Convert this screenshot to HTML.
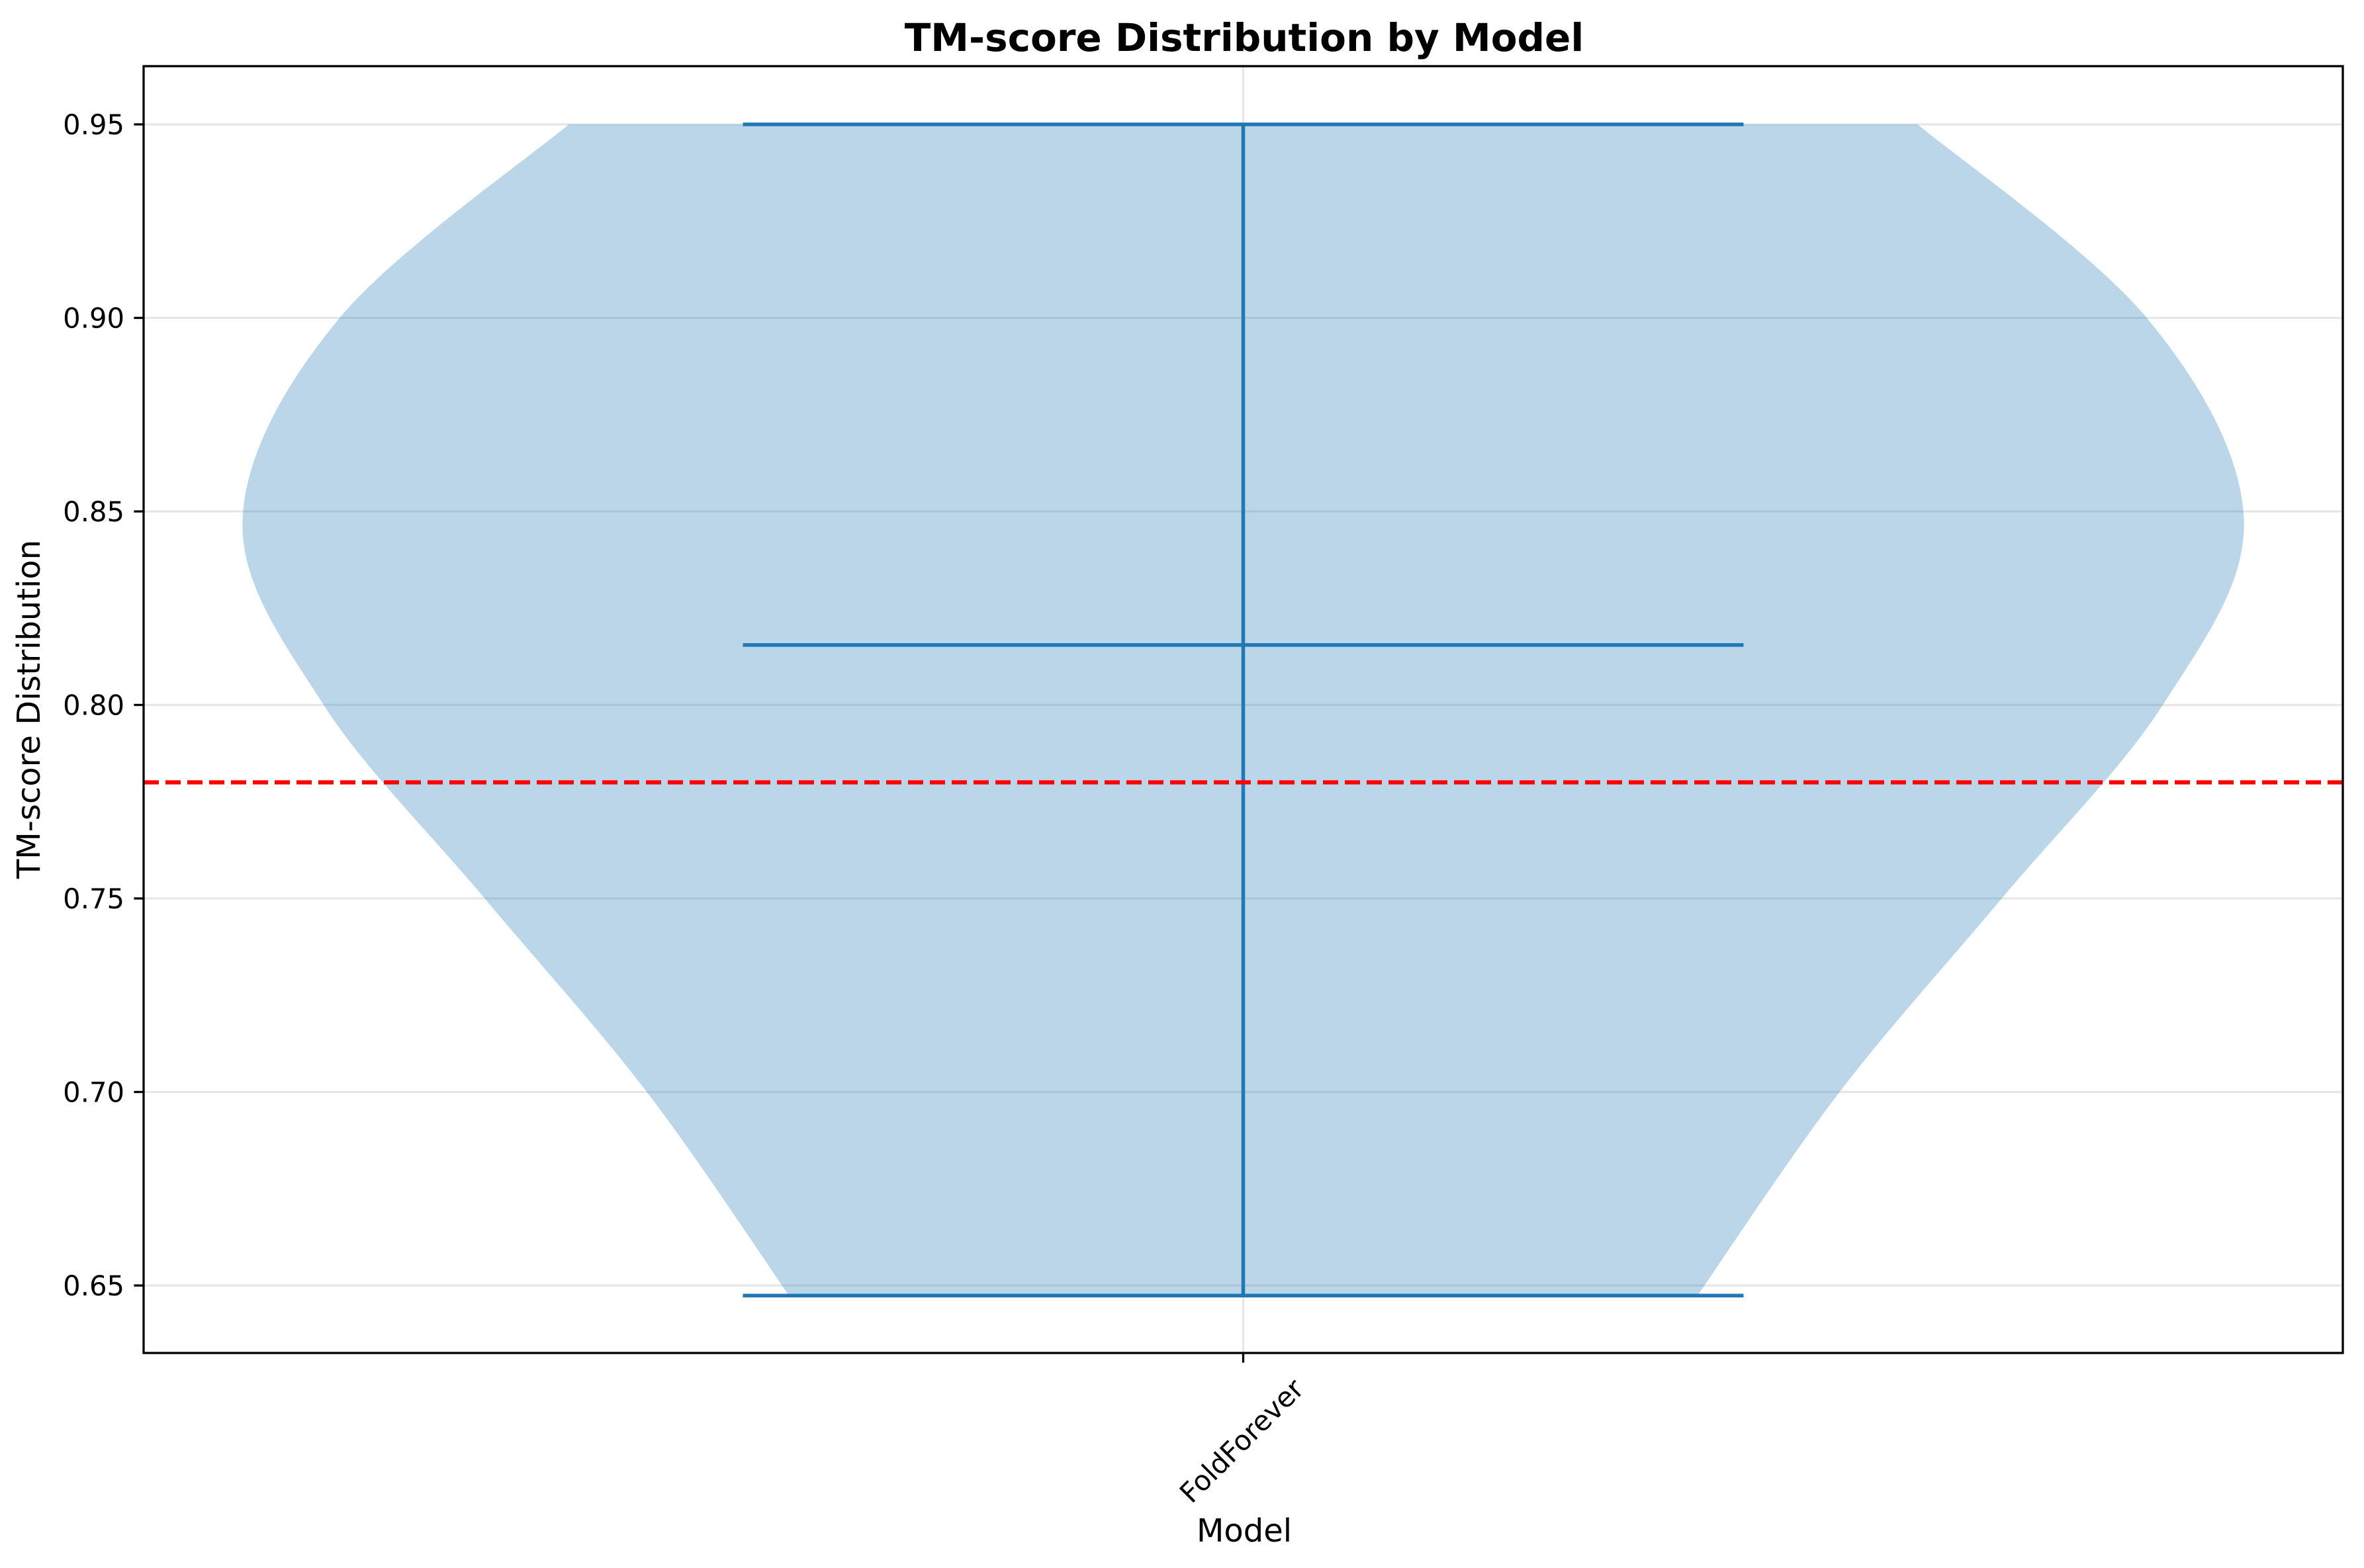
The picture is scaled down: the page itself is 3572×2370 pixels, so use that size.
<!DOCTYPE html>
<html><head><meta charset="utf-8"><style>
html,body{margin:0;padding:0;background:#fff;}
svg{display:block;font-family:"DejaVu Sans","Liberation Sans",sans-serif;}
</style></head><body>
<svg id="chart" width="3572" height="2370" viewBox="0 0 3572 2370" xmlns="http://www.w3.org/2000/svg">
<rect width="3572" height="2370" fill="#fff"/>
<g id="grid"></g>
<g id="marks"></g>
<g id="axes"></g>
<text x="1880" y="77" text-anchor="middle" font-size="58" font-weight="bold">TM-score Distribution by Model</text>
<text transform="translate(60,1072) rotate(-90)" text-anchor="middle" font-size="48">TM-score Distribution</text>
<text x="1880" y="2330" text-anchor="middle" font-size="48">Model</text>
</svg>
<script>
const categories = ["FoldForever"];
const kdeValues = [0.6474, 0.70, 0.75, 0.80, 0.848, 0.90, 0.95];
const kdeDensity = [0.454, 0.596, 0.758, 0.919, 1.0, 0.903, 0.674];
const statMin = [0.6474];
const statMax = [0.95];
const statMedian = [0.8155];
const thresholdValue = [0.78];
const yTicks = [0.65, 0.70, 0.75, 0.80, 0.85, 0.90, 0.95];
const yTickLabels = ["0.65", "0.70", "0.75", "0.80", "0.85", "0.90", "0.95"];

const L = 217, R = 3540, T = 100, B = 2045;
const xMin = 0.5, xMax = 1.5;
const violinHalf = 0.4550, capHalf = 0.2275;
const NS = "http://www.w3.org/2000/svg";
function y(v){ return 188 + (0.95 - v) * 5850; }
function x(v){ return L + (v - xMin) / (xMax - xMin) * (R - L); }
function mk(tag, attrs, parent){
  const e = document.createElementNS(NS, tag);
  for (const k in attrs) e.setAttribute(k, attrs[k]);
  parent.appendChild(e); return e;
}
function smooth(pts){
  let d = '';
  for (let i = 0; i < pts.length - 1; i++) {
    const p0 = pts[Math.max(0, i - 1)], p1 = pts[i], p2 = pts[i + 1], p3 = pts[Math.min(pts.length - 1, i + 2)];
    const c1x = p1[0] + (p2[0] - p0[0]) / 6, c1y = p1[1] + (p2[1] - p0[1]) / 6;
    const c2x = p2[0] - (p3[0] - p1[0]) / 6, c2y = p2[1] - (p3[1] - p1[1]) / 6;
    d += 'C' + c1x + ' ' + c1y + ' ' + c2x + ' ' + c2y + ' ' + p2[0] + ' ' + p2[1];
  }
  return d;
}
const grid = document.getElementById('grid');
const marks = document.getElementById('marks');
const axes = document.getElementById('axes');

yTicks.forEach((t, i) => {
  const g = mk('line', {x1: L, x2: R, y1: y(t), y2: y(t), stroke: '#b0b0b0', 'stroke-opacity': 0.3, 'stroke-width': 3.3}, grid);
  
  
  const tk = mk('line', {x1: L - 14.6, x2: L, y1: y(t), y2: y(t), stroke: '#000', 'stroke-width': 3.3}, axes);
  
  
  const lb = mk('text', {x: L - 29, y: y(t) + 15, 'text-anchor': 'end', 'font-size': 41.7}, axes);
  lb.textContent = yTickLabels[i];
  
  
});
categories.forEach((c, i) => {
  const pos = i + 1, cx = x(pos);
  const vg = mk('line', {x1: cx, x2: cx, y1: T, y2: B, stroke: '#b0b0b0', 'stroke-opacity': 0.3, 'stroke-width': 3.3}, grid);
  
  
  const leftPts = kdeValues.map((v, j) => [x(pos - kdeDensity[j] * violinHalf), y(v)]);
  const rightPts = kdeValues.map((v, j) => [x(pos + kdeDensity[j] * violinHalf), y(v)]).reverse();
  let d = 'M' + leftPts[0][0] + ' ' + leftPts[0][1] + smooth(leftPts);
  d += 'L' + rightPts[0][0] + ' ' + rightPts[0][1] + smooth(rightPts) + 'Z';
  const body = mk('path', {d: d, fill: '#1f77b4', 'fill-opacity': 0.3}, marks);
  
  
  const bar = mk('line', {x1: cx, x2: cx, y1: y(statMin[i]), y2: y(statMax[i]), stroke: '#1f77b4', 'stroke-width': 5.5}, marks);
  
  
  [[statMax[i], 'max-cap'], [statMin[i], 'min-cap'], [statMedian[i], 'median-line']].forEach(([v, n]) => {
    const l = mk('line', {x1: x(pos - capHalf), x2: x(pos + capHalf), y1: y(v), y2: y(v), stroke: '#1f77b4', 'stroke-width': 5.5}, marks);
    
    
  });
  const xt = mk('line', {x1: cx, x2: cx, y1: B, y2: B + 14.6, stroke: '#000', 'stroke-width': 3.3}, axes);
  
  
  const xl = mk('text', {transform: 'translate(' + (cx - 2) + ',2178) rotate(-45)', 'text-anchor': 'middle', 'font-size': 41.7, dy: 14}, axes);
  xl.textContent = c;
  
  
});
const th = mk('line', {x1: L, x2: R, y1: y(thresholdValue[0]), y2: y(thresholdValue[0]), stroke: '#ff0000', 'stroke-width': 6.25, 'stroke-dasharray': '23 10'}, marks);


const frame = mk('rect', {x: L, y: T, width: R - L, height: B - T, fill: 'none', stroke: '#000', 'stroke-width': 3.3}, axes);


</script>
</body></html>
